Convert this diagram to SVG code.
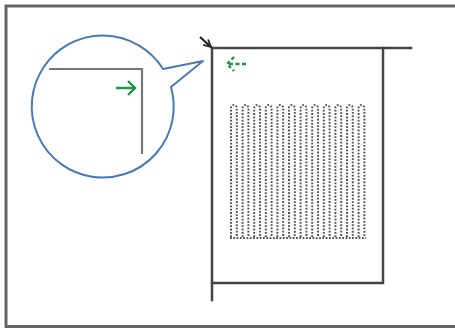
<svg xmlns="http://www.w3.org/2000/svg" width="455" height="329" viewBox="0 0 455 329">
<defs>
<style>
.ln{fill:none;stroke:#444;stroke-width:2.5;stroke-linecap:square}
.gr{fill:none;stroke:#1a9641;stroke-width:2.4}
.dots{fill:none;stroke:#555;stroke-width:2;stroke-dasharray:1.8 1.5}
</style>
<marker id="bk" viewBox="0 0 10 10" refX="9" refY="5" markerWidth="9" markerHeight="9" orient="auto" markerUnits="userSpaceOnUse">
<path d="M1,1 L9,5 L1,9" fill="none" stroke="#222" stroke-width="2"/>
</marker>
</defs>
<rect x="0" y="0" width="455" height="329" fill="#fff"/>
<rect x="6" y="6" width="460" height="320.5" fill="none" stroke="#666" stroke-width="3"/>
<g id="bubble">
<path d="M163,69 L203,61 L171,87 A71,71 0 1 1 163,69 Z" fill="#fff" stroke="#4a78b8" stroke-width="2" stroke-linejoin="round"/>
<path d="M49,69 L142,69 L142,154" fill="none" stroke="#777" stroke-width="2.2"/>
<g class="gr"><path d="M116,88 L135,88"/><path d="M128,81 L135,88 L128,95"/></g>
</g>
<g id="paper">
<path class="ln" d="M212,48 L212,300"/>
<path class="ln" d="M212,48 L411,48"/>
<path class="ln" d="M383,48 L383,283 L212,283"/>
</g>
<g id="pattern">
<path class="dots" d="M231,237 L231,108 A2.9,2.9 0 0 1 236.8,108 L236.8,237 M242.6,237 L242.6,108 A2.9,2.9 0 0 1 248.4,108 L248.4,237 M254.2,237 L254.2,108 A2.9,2.9 0 0 1 260,108 L260,237 M265.8,237 L265.8,108 A2.9,2.9 0 0 1 271.6,108 L271.6,237 M277.4,237 L277.4,108 A2.9,2.9 0 0 1 283.2,108 L283.2,237 M289,237 L289,108 A2.9,2.9 0 0 1 294.8,108 L294.8,237 M300.6,237 L300.6,108 A2.9,2.9 0 0 1 306.4,108 L306.4,237 M312.2,237 L312.2,108 A2.9,2.9 0 0 1 318,108 L318,237 M323.8,237 L323.8,108 A2.9,2.9 0 0 1 329.6,108 L329.6,237 M335.4,237 L335.4,108 A2.9,2.9 0 0 1 341.2,108 L341.2,237 M347,237 L347,108 A2.9,2.9 0 0 1 352.8,108 L352.8,237 M358.6,237 L358.6,108 A2.9,2.9 0 0 1 364.4,108 L364.4,237 M230,238 L366,238"/>
</g>
<g id="connectors">
<path d="M200,37 L211,47" fill="none" stroke="#222" stroke-width="2.2" marker-end="url(#bk)"/>
<path d="M246,64 L228,64" class="gr" stroke-dasharray="4 2.5"/>
<path d="M234,57 L227,64 L234,71" class="gr" stroke-dasharray="3.5 2.5"/>
</g>
</svg>
